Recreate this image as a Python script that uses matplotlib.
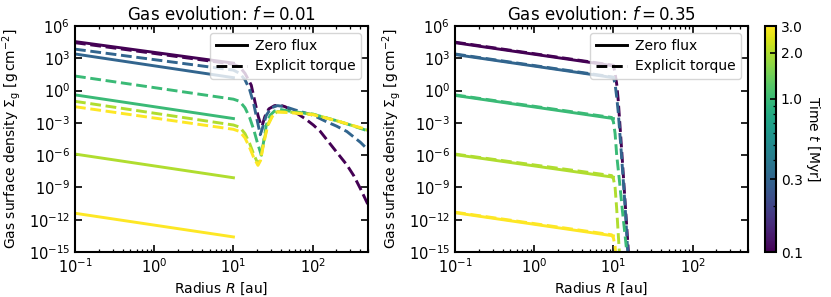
import numpy as np
import matplotlib
matplotlib.use("Agg")
import matplotlib.pyplot as plt
from matplotlib.colors import LogNorm
from matplotlib.lines import Line2D
import matplotlib.ticker as mticker

# ---------------- data (log10 of surface density) ----------------
times = [0.1, 0.3, 1.0, 2.0, 3.0]  # Myr

# Zero-flux solutions (both panels), defined 0.1 -> 10 au
r_zf = [0.1, 10.0]
zf_left = [
    [4.55, 2.55],
    [3.4, 1.2],
    [-0.4, -2.6],
    [-5.9, -8.1],
    [-11.4, -13.6],
]
zf_right = [
    [4.45, 2.3],
    [3.35, 1.2],
    [-0.45, -2.6],
    [-5.95, -8.05],
    [-11.35, -13.5],
]

# Explicit torque, f = 0.01
r_et_left = [
    [0.1, 10, 12, 14, 16.8, 18.5, 20.4, 22, 23, 25, 28, 33, 38.7, 45, 60, 80, 102, 125, 200, 270, 330, 400, 500],
    [0.1, 10, 12, 14, 16, 18, 20, 21.8, 23, 26, 30, 36, 45, 60, 102, 150, 200, 270, 400, 500],
    [0.1, 10, 12, 14, 16, 18, 20, 22.5, 24, 26, 29, 33, 38.7, 50, 102, 200, 300, 500],
    [0.1, 10, 12, 14, 16, 18, 20.4, 22, 24, 27, 31, 36, 50, 102, 200, 500],
    [0.1, 10, 12, 14, 16, 18, 20.4, 22, 24, 27, 31, 36, 50, 102, 200, 500],
]
et_left = [
    [4.45, 2.45, 2.2, 1.6, 0.5, -0.9, -2.3, -3.1, -3.3, -2.4, -1.7, -1.4, -1.35, -1.5, -2.0, -2.6, -3.2, -3.8, -5.7, -6.9, -7.9, -9.1, -10.6],
    [3.85, 1.9, 1.6, 1.0, 0.1, -1.2, -2.8, -4.1, -3.6, -2.3, -1.6, -1.4, -1.5, -1.8, -2.3, -2.9, -3.3, -3.8, -4.8, -5.5],
    [1.35, -0.8, -1.0, -1.6, -2.5, -3.6, -4.8, -6.0, -4.8, -3.2, -2.3, -1.9, -1.75, -1.9, -2.2, -2.8, -3.2, -3.75],
    [-1.0, -3.2, -3.4, -4.0, -4.9, -5.9, -6.8, -6.4, -4.8, -3.2, -2.3, -1.95, -2.0, -2.2, -2.8, -3.7],
    [-1.5, -3.6, -3.8, -4.4, -5.3, -6.2, -6.95, -6.5, -5.0, -3.3, -2.4, -2.0, -2.05, -2.25, -2.8, -3.65],
]

# Explicit torque, f = 0.35
r_et_right = [
    [0.1, 10, 10.5, 11, 11.5, 12.7, 14, 15.4, 16],
    [0.1, 10, 10.5, 11, 11.5, 12.5, 14, 15.3],
    [0.1, 9.5, 10, 10.5, 11, 12, 13, 14, 15],
    [0.1, 9.5, 10, 10.5, 11, 11.5, 12],
    [0.1, 9.5, 10, 10.5, 10.8],
]
et_right = [
    [4.5, 2.35, 1.6, 0.6, -0.9, -5.5, -10.2, -14.8, -16.5],
    [3.4, 1.25, 0.6, -0.6, -2.0, -5.5, -10.6, -15.5],
    [-0.4, -2.5, -2.9, -4.0, -6.0, -8.6, -11.2, -13.4, -15.5],
    [-5.9, -7.9, -8.2, -9.0, -11.0, -13.3, -15.5],
    [-11.3, -13.4, -13.7, -14.5, -15.5],
]

titles = [r"Gas evolution: $f = 0.01$", r"Gas evolution: $f = 0.35$"]
ytick_exp = [-15, -12, -9, -6, -3, 0, 3, 6]
cbar_ticks = [0.1, 0.3, 1.0, 2.0, 3.0]

# ---------------- figure ----------------
plt.rcParams["font.family"] = ["DejaVu Sans"]
plt.rcParams["font.size"] = 10

fig = plt.figure(figsize=(8.31, 2.97), dpi=100)
ax1 = fig.add_axes([75 / 831, 45 / 297, 293 / 831, 226 / 297])
ax2 = fig.add_axes([455 / 831, 45 / 297, 293 / 831, 226 / 297])
cax = fig.add_axes([765 / 831, 45 / 297, 11 / 831, 226 / 297])

norm = LogNorm(vmin=0.1, vmax=3.0)
cmap = plt.get_cmap("viridis")

panels = [
    (ax1, zf_left, r_et_left, et_left),
    (ax2, zf_right, r_et_right, et_right),
]
for k, (ax, zf, r_et, et) in enumerate(panels):
    for i, t in enumerate(times):
        c = cmap(norm(t))
        ax.plot(r_zf, 10.0 ** np.array(zf[i]), color=c, lw=2.1, ls="-")
        ax.plot(r_et[i], 10.0 ** np.array(et[i]), color=c, lw=2.1, ls="--")
    ax.set_xscale("log")
    ax.set_yscale("log")
    ax.set_xlim(0.1, 500)
    ax.set_ylim(1e-15, 1e6)
    ax.yaxis.set_major_locator(mticker.FixedLocator([10.0 ** e for e in ytick_exp]))
    ax.yaxis.set_major_formatter(mticker.LogFormatterSciNotation())
    ax.yaxis.set_minor_locator(mticker.NullLocator())
    ax.xaxis.set_major_locator(mticker.LogLocator(base=10))
    ax.xaxis.set_minor_locator(mticker.LogLocator(base=10, subs=np.arange(2, 10)))
    ax.tick_params(which="both", direction="in", top=True, right=True, labelsize=10.5)
    ax.tick_params(which="major", length=5, width=1.2)
    ax.tick_params(which="minor", length=2.5, width=0.9)
    for s in ax.spines.values():
        s.set_linewidth(1.5)
    ax.set_xlabel(r"Radius $R$ [au]", fontsize=10)
    ax.set_ylabel(r"Gas surface density $\Sigma_{\rm g}$ [g$\,$cm$^{-2}$]", fontsize=10)
    ax.set_title(titles[k], fontsize=12, pad=4)
    handles = [Line2D([], [], color="k", lw=2.1, ls="-"),
               Line2D([], [], color="k", lw=2.1, ls="--")]
    ax.legend(handles, ["Zero flux", "Explicit torque"], loc="upper right",
              fontsize=10, handlelength=2.2, handletextpad=0.6)

sm = matplotlib.cm.ScalarMappable(norm=norm, cmap=cmap)
cb = fig.colorbar(sm, cax=cax)
cb.set_ticks(cbar_ticks)
cb.set_ticklabels(["%.1f" % v for v in cbar_ticks])
cb.ax.tick_params(which="both", direction="in", labelsize=10)
cb.ax.tick_params(which="major", length=4, width=1.2)
cb.ax.tick_params(which="minor", length=2.5, width=0.9)
cb.outline.set_linewidth(1.5)
cb.set_label(r"Time $t$ [Myr]", rotation=270, labelpad=14, fontsize=10)

fig.savefig("out.png", dpi=100)
